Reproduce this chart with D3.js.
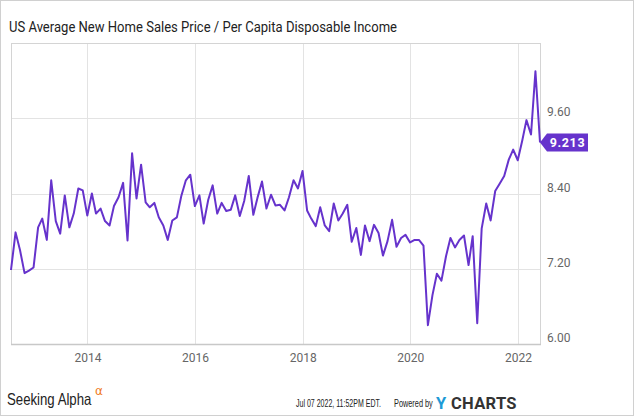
<!DOCTYPE html>
<html>
<head>
<meta charset="utf-8">
<script src="https://cdn.jsdelivr.net/npm/d3@7"></script>
<style>
  html, body { margin: 0; padding: 0; background: #fff; }
  svg { display: block; }
</style>
</head>
<body>
<svg id="chart" width="635" height="417"></svg>
<script>
// ---- data ----
const title = "US Average New Home Sales Price / Per Capita Disposable Income";
const startMonth = "2012-07";   // first observation (month-end dates)
const values = [
  // 2012 Jul-Dec
  7.18, 7.78, 7.50, 7.13, 7.17, 7.22,
  // 2013
  7.86, 8.00, 7.66, 8.61, 7.96, 7.76, 8.37, 7.86, 8.08, 8.48, 8.45, 8.05,
  // 2014
  8.40, 8.08, 8.16, 7.96, 7.89, 8.20, 8.34, 8.57, 7.65, 9.04, 8.32, 8.86,
  // 2015
  8.26, 8.18, 8.25, 8.02, 7.89, 7.66, 7.97, 8.02, 8.36, 8.61, 8.70, 8.20,
  // 2016
  8.37, 7.92, 8.30, 8.53, 8.08, 8.25, 8.12, 8.14, 8.37, 8.04, 8.28, 8.68,
  // 2017
  8.06, 8.33, 8.59, 8.16, 8.38, 8.21, 8.22, 8.13, 8.34, 8.61, 8.48, 8.76,
  // 2018
  8.13, 8.00, 7.88, 8.18, 7.89, 7.80, 8.24, 7.97, 8.08, 8.22, 7.63, 7.85,
  // 2019
  7.42, 7.89, 7.64, 7.90, 7.77, 7.41, 7.64, 7.98, 7.55, 7.69, 7.74, 7.62,
  // 2020
  7.66, 7.66, 7.57, 6.30, 6.78, 7.12, 7.01, 7.40, 7.69, 7.54, 7.66, 7.73,
  // 2021
  7.26, 7.72, 6.33, 7.84, 8.24, 7.97, 8.44, 8.56, 8.68, 8.94, 9.10, 8.93,
  // 2022 Jan-May
  9.25, 9.57, 9.34, 10.35, 9.213
];
const lastLabel = "9.213";
const yTicks = [6.00, 7.20, 8.40, 9.60];
const xTickYears = [2014, 2016, 2018, 2020, 2022];
const yDomain = [6.0, 10.8];
const footerDate = "Jul 07 2022, 11:52PM EDT.";
const footerPowered = "Powered by";

// ---- build dated series (month-end) ----
const [sy, sm] = startMonth.split("-").map(Number);
const series = values.map((v, i) => ({
  date: new Date(sy, sm - 1 + i + 1, 0), // last day of month
  value: v
}));

// ---- layout ----
const svg = d3.select("#chart");
const W = 635, H = 417;
const plot = { left: 11, right: 540, top: 43, bottom: 344 };

const x = d3.scaleTime()
  .domain(d3.extent(series, d => d.date))
  .range([plot.left, plot.right]);
const y = d3.scaleLinear()
  .domain(yDomain)
  .range([plot.bottom, plot.top]);

// outer frame
svg.append("rect")
  .attr("x", 0.5).attr("y", 0.5)
  .attr("width", W - 2).attr("height", H - 2)
  .attr("fill", "#fff").attr("stroke", "#d0d0d0");

// title
svg.append("text")
  .attr("x", 9).attr("y", 32)
  .attr("font-family", "Roboto, sans-serif")
  .attr("font-size", 14)
  .attr("fill", "#222")
  .attr("textLength", 388).attr("lengthAdjust", "spacingAndGlyphs")
  .text(title);

// grid lines
const grid = svg.append("g");
grid.selectAll("line.h").data(yTicks).join("line")
  .attr("x1", plot.left).attr("x2", plot.right)
  .attr("y1", d => Math.round(y(d)) + 0.5).attr("y2", d => Math.round(y(d)) + 0.5)
  .attr("stroke", "#e3e3e3");
grid.selectAll("line.v").data(xTickYears).join("line")
  .attr("x1", d => Math.round(x(new Date(d, 0, 1))) + 0.5)
  .attr("x2", d => Math.round(x(new Date(d, 0, 1))) + 0.5)
  .attr("y1", plot.top).attr("y2", plot.bottom)
  .attr("stroke", "#e3e3e3");

// plot border
svg.append("rect")
  .attr("x", plot.left + 0.5).attr("y", plot.top + 0.5)
  .attr("width", plot.right - plot.left).attr("height", plot.bottom - plot.top)
  .attr("fill", "none").attr("stroke", "#d4d4d4");
svg.append("line")
  .attr("x1", plot.left).attr("x2", plot.right + 1)
  .attr("y1", plot.bottom + 0.5).attr("y2", plot.bottom + 0.5)
  .attr("stroke", "#c8c8c8").attr("stroke-width", 1.5);

// axes via d3
const yAxis = d3.axisRight(y).tickValues(yTicks).tickFormat(d3.format(".2f")).tickSize(0).tickPadding(7);
const gy = svg.append("g").attr("transform", `translate(${plot.right},0)`).call(yAxis);
gy.select(".domain").remove();
gy.selectAll("text")
  .attr("dy", "-0.2em")
  .attr("font-family", "Roboto, sans-serif").attr("font-size", 12).attr("fill", "#666");

const xAxis = d3.axisBottom(x)
  .tickValues(xTickYears.map(yr => new Date(yr, 0, 1)))
  .tickFormat(d3.timeFormat("%Y")).tickSize(0).tickPadding(9);
const gx = svg.append("g").attr("transform", `translate(0,${plot.bottom})`).call(xAxis);
gx.select(".domain").remove();
gx.selectAll("text")
  .attr("font-family", "Roboto, sans-serif").attr("font-size", 12).attr("fill", "#666");

// line
const lineColor = "#6633cc";
svg.append("path")
  .datum(series)
  .attr("fill", "none")
  .attr("stroke", lineColor)
  .attr("stroke-width", 2)
  .attr("stroke-linejoin", "round")
  .attr("d", d3.line().x(d => x(d.date)).y(d => y(d.value)));

// last value tag
const last = series[series.length - 1];
const tx = x(last.date), ty = y(last.value);
const tagH = 18, tagW = 41, notch = 7;
svg.append("path")
  .attr("d", `M${tx},${ty} L${tx + notch},${ty - tagH / 2} L${tx + notch + tagW},${ty - tagH / 2} L${tx + notch + tagW},${ty + tagH / 2} L${tx + notch},${ty + tagH / 2} Z`)
  .attr("fill", lineColor);
svg.append("text")
  .attr("x", tx + notch + tagW / 2).attr("y", ty + 4.5)
  .attr("text-anchor", "middle")
  .attr("font-family", "Roboto, sans-serif").attr("font-weight", "bold")
  .attr("font-size", 12.5).attr("fill", "#fff")
  .attr("letter-spacing", 0.6)
  .text(lastLabel);

// footer: Seeking Alpha logo (horizontally condensed via transform)
svg.append("g").attr("transform", "translate(7,405) scale(0.8,1)")
  .append("text")
  .attr("x", 0).attr("y", 0)
  .attr("font-family", "'Liberation Sans', sans-serif")
  .attr("font-size", 16.5).attr("fill", "#222")
  .text("Seeking Alpha");
svg.append("text")
  .attr("x", 95).attr("y", 395)
  .attr("font-family", "'DejaVu Sans', sans-serif")
  .attr("font-size", 12).attr("fill", "#f07b1d")
  .text("α");

// footer: date + powered by
svg.append("g").attr("transform", "translate(296,407) scale(0.67,1)")
  .append("text")
  .attr("font-family", "'Liberation Sans', sans-serif")
  .attr("font-size", 10.5).attr("fill", "#222")
  .text(footerDate);
svg.append("g").attr("transform", "translate(394,407) scale(0.7,1)")
  .append("text")
  .attr("font-family", "'Liberation Sans', sans-serif")
  .attr("font-size", 10.5).attr("fill", "#222")
  .text(footerPowered);

// YCHARTS logo
svg.append("text")
  .attr("x", 436).attr("y", 409)
  .attr("font-family", "Roboto, sans-serif").attr("font-weight", "bold")
  .attr("font-size", 16.5).attr("fill", "#1d9ad6")
  .text("Y");
svg.append("text")
  .attr("x", 451).attr("y", 409)
  .attr("font-family", "Roboto, sans-serif").attr("font-weight", "bold")
  .attr("font-size", 16.5).attr("fill", "#333")
  .attr("letter-spacing", 0.3)
  .text("CHARTS");
</script>
</body>
</html>
